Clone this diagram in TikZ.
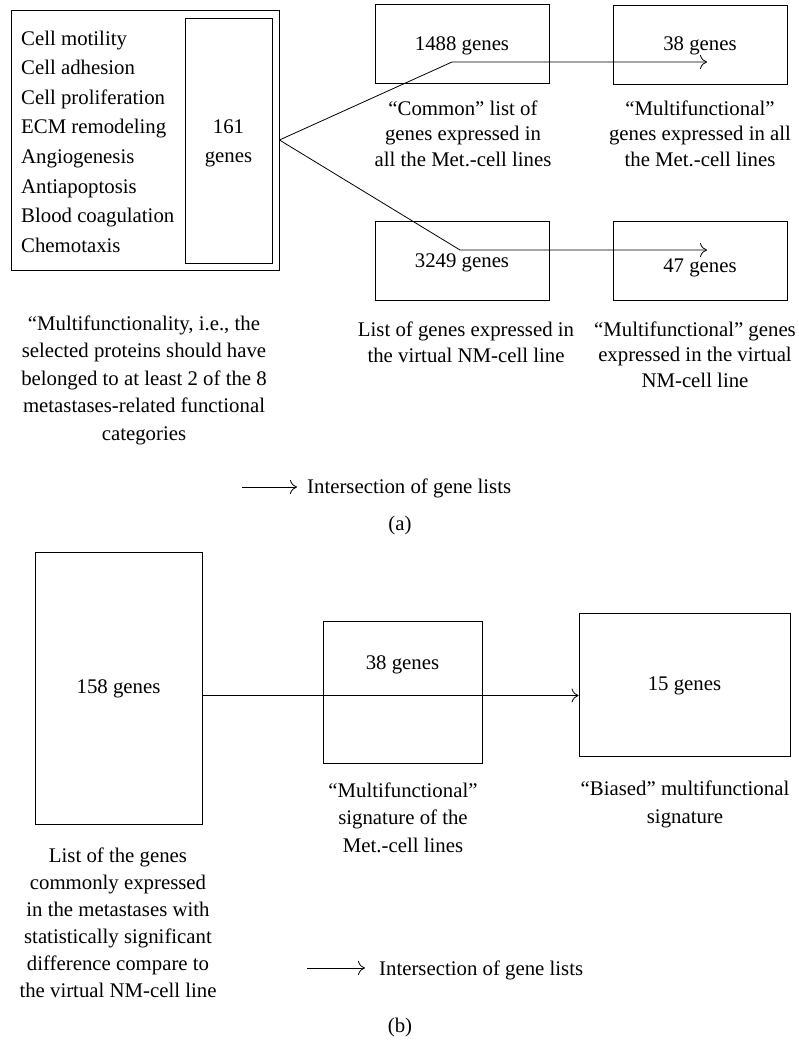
\documentclass[tikz,border=0pt]{standalone}
\usepackage{fontspec}
\setmainfont{Liberation Serif}
\usetikzlibrary{arrows.meta}

\tikzset{
  box/.style={draw, line width=0.9pt, inner sep=0pt},
  txt/.style={inner sep=0pt, anchor=base, font=\fontsize{20.8}{25.5}\selectfont},
  capt/.style={txt, align=center},
  wide/.style={font=\fontsize{20.8}{27.5}\selectfont},
  conn/.style={line width=0.8pt},
  tip/.style={conn, -{Computer Modern Rightarrow[length=7pt,width=14pt]}}
}

\begin{document}
\begin{tikzpicture}[x=1pt,y=-1pt]
  %\draw[step=50,gray,very thin] (0,0) grid (799,1042);
  \useasboundingbox (0,0) rectangle (799,1042);

  % (a)
  \node[box, minimum width=268, minimum height=260] (outer) at (145,140) {};
  \node[box, minimum width=87, minimum height=245] (inner) at (228.5,140.5) {};
  \foreach \item [count=\i from 0] in {Cell motility, Cell adhesion, Cell proliferation,
      ECM remodeling, Angiogenesis, Antiapoptosis, Blood coagulation, Chemotaxis}
    \node[txt, anchor=base west] (cat\i) at (21,{45+29.6*\i}) {\item};
  \node[txt] (n161) at (228.5,133) {161};
  \node[txt] (g161) at (228.5,162) {genes};

  \node[box, minimum width=174, minimum height=79] (common) at (462,43.5) {};
  \node[box, minimum width=174, minimum height=79] (multiA) at (700,44.5) {};
  \node[box, minimum width=174, minimum height=79] (virtual) at (462,260.5) {};
  \node[box, minimum width=174, minimum height=79] (multiB) at (700,260.5) {};

  \node[txt] (n1488) at (462,50) {1488 genes};
  \node[txt] (n38a) at (700,50) {38 genes};
  \node[txt] (n3249) at (462,267) {3249 genes};
  \node[txt] (n47) at (700,272) {47 genes};

  \coordinate (kinkup) at (452,62);
  \coordinate (tipup) at (707,62);
  \coordinate (kinkdown) at (460,250);
  \coordinate (tipdown) at (707,250);
  \draw[tip] (outer.east) -- (kinkup) -- (tipup);
  \draw[tip] (outer.east) -- (kinkdown) -- (tipdown);

  % base of a multi-line node = baseline of its last line
  \node[capt] (capcommon) at (463,166) {“Common” list of\\genes expressed in\\all the Met.-cell lines};
  \node[capt] (capmultiA) at (700,166) {“Multifunctional”\\genes expressed in all\\the Met.-cell lines};
  \node[capt] (capvirtual) at (466,362) {List of genes expressed in\\the virtual NM-cell line};
  \node[capt] (capmultiB) at (695,387) {“Multifunctional” genes\\expressed in the virtual\\NM-cell line};
  \node[capt, wide] (capouter) at (144,440)
    {“Multifunctionality, i.e., the\\selected proteins should have\\belonged to at least 2 of the 8\\metastases-related functional\\categories};

  \coordinate (lega0) at (242,487);
  \coordinate (lega1) at (297,487);
  \draw[tip] (lega0) -- (lega1);
  \node[txt, anchor=base west] (legatxt) at (307,493) {Intersection of gene lists};
  \node[txt] (parta) at (400,530) {(a)};

  % (b)
  \node[box, minimum width=167, minimum height=272] (sig158) at (118.5,688) {};
  \node[box, minimum width=159, minimum height=142] (sig38) at (402.5,692) {};
  \node[box, minimum width=211, minimum height=143] (sig15) at (684.5,684.5) {};

  \node[txt] (n158) at (118.5,693) {158 genes};
  \node[txt] (n38b) at (402.5,669) {38 genes};
  \node[txt] (n15) at (684.5,690) {15 genes};

  \coordinate (startb) at (202,695.5);
  \draw[tip] (startb) -- (startb -| sig15.west);

  \node[capt, wide] (cap38) at (403,852) {“Multifunctional”\\signature of the\\Met.-cell lines};
  \node[capt, wide] (cap15) at (685,823) {“Biased” multifunctional\\signature};
  \node[capt, font=\fontsize{20.8}{27}\selectfont] (cap158) at (118,997) {List of the genes\\commonly expressed\\in the metastases with\\statistically significant\\difference compare to\\the virtual NM-cell line};

  \coordinate (legb0) at (307,968);
  \coordinate (legb1) at (365,968);
  \draw[tip] (legb0) -- (legb1);
  \node[txt, anchor=base west] (legbtxt) at (379,975) {Intersection of gene lists};
  \node[txt] (partb) at (400,1032) {(b)};
\end{tikzpicture}
\end{document}
